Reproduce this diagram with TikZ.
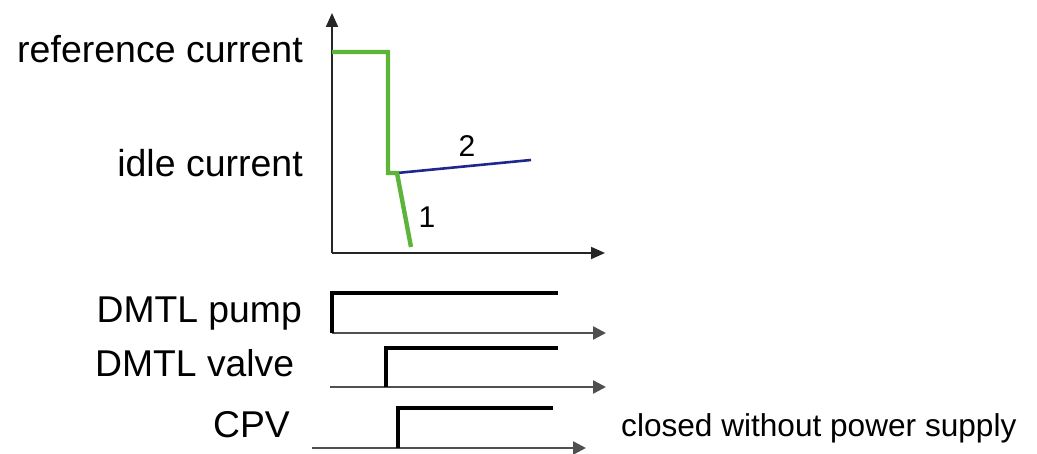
\documentclass[tikz,border=0pt]{standalone}
\usepackage{fontspec}
\setmainfont{Liberation Sans}
\usetikzlibrary{arrows.meta}
\definecolor{grn}{RGB}{92,180,58}
\definecolor{navy}{RGB}{30,40,140}
\definecolor{axgray}{RGB}{80,80,80}
\tikzset{
  axis/.style={line width=2pt, draw=black!85, -{Triangle[length=14pt,width=12pt]}},
  taxis/.style={line width=2.4pt, draw=axgray, -{Triangle[length=13pt,width=13pt]}},
  stepline/.style={line width=4.4pt, draw=black, line join=miter},
  lbl/.style={inner sep=0pt, font=\fontsize{37.5}{40}\selectfont},
  slbl/.style={inner sep=0pt, font=\fontsize{37.3}{40}\selectfont},
  num/.style={inner sep=0pt, font=\fontsize{30}{32}\selectfont},
  note/.style={inner sep=0pt, font=\fontsize{31.6}{34}\selectfont},
}
\begin{document}
\begin{tikzpicture}[x=1pt,y=-1pt]
\useasboundingbox (0,0) rectangle (1037,454);
% top chart axes
\coordinate (o) at (332,253);
\coordinate (ytip) at (332,13);
\coordinate (xtip) at (605,253);
\draw[axis] (o) -- (ytip);
\draw[axis] (o) -- (xtip);
% curves
\coordinate (r0) at (332,52);
\coordinate (r1) at (388,52);
\coordinate (r2) at (388,173);
\coordinate (r3) at (397,173);
\coordinate (r4) at (411,247);
\coordinate (b1) at (531,160);
\draw[navy, line width=2.6pt] (r3) -- (b1);
\draw[grn, line width=4.4pt, line join=miter] (r0) -- (r1) -- (r2) -- (r3) -- (r4);
\node[num, anchor=base] (n2) at (467,157) {2};
\node[num, anchor=base] (n1) at (427,228) {1};
\node[lbl, anchor=base east] (ref) at (303,63) {reference current};
\node[lbl, anchor=base east] (idle) at (303,177) {idle current};
% timing lines
\coordinate (p0) at (332,333);
\coordinate (pt) at (606,333);
\coordinate (ph0) at (332,293);
\coordinate (ph1) at (558,293);
\draw[taxis] (p0) -- (pt);
\draw[stepline] (p0) -- (ph0) -- (ph1);
\coordinate (v0) at (330,387);
\coordinate (vt) at (606,387);
\coordinate (vs) at (386,387);
\coordinate (vh0) at (386,348);
\coordinate (vh1) at (558,348);
\draw[taxis] (v0) -- (vt);
\draw[stepline] (vs) -- (vh0) -- (vh1);
\coordinate (c0) at (312,448);
\coordinate (ct) at (586,448);
\coordinate (cs) at (398,448);
\coordinate (ch0) at (398,408);
\coordinate (ch1) at (553,408);
\draw[taxis] (c0) -- (ct);
\draw[stepline] (cs) -- (ch0) -- (ch1);
\node[slbl, anchor=base east] (pump) at (302,323) {DMTL pump};
\node[slbl, anchor=base west] (valve) at (95,377) {DMTL valve};
\node[slbl, anchor=base east] (cpv) at (290,438) {CPV};
\node[note, anchor=base west] (closed) at (621,437) {closed without power supply};
\end{tikzpicture}
\end{document}
